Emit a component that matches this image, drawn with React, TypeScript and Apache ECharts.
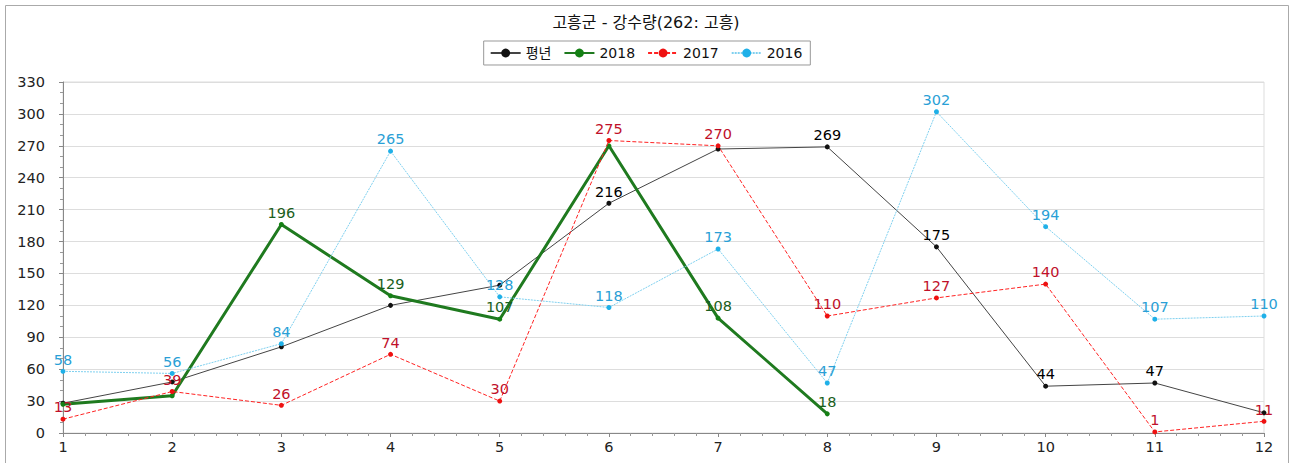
import React, { useEffect, useRef } from "react";
import * as echarts from "echarts";

const months = [1, 2, 3, 4, 5, 6, 7, 8, 9, 10, 11, 12];
const normalVals = [28, 48, 81, 120, 139, 216, 267, 269, 175, 44, 47, 19];
const normalShow = [false, false, false, false, false, true, false, true, true, true, true, false];
const y2018Vals = [27, 35, 196, 129, 107, 270, 108, 18];
const y2018Show = [false, false, true, true, true, false, true, true];
const y2017Vals = [13, 39, 26, 74, 30, 275, 270, 110, 127, 140, 1, 11];
const y2016Vals = [58, 56, 84, 265, 128, 118, 173, 47, 302, 194, 107, 110];

const FONT = "Verdana, 'DejaVu Sans', 'Noto Sans CJK KR', sans-serif";

function pairs(vals: number[], show?: boolean[]) {
  return vals.map((v, i) => ({
    value: [months[i], v],
    label: { show: show ? show[i] : true },
  }));
}

export default function App() {
  const ref = useRef<HTMLDivElement>(null);
  useEffect(() => {
    if (!ref.current) return;
    const chart = echarts.init(ref.current, null, { renderer: "svg" });
    const labelBase = (color: string) => ({
      show: true,
      position: "top" as const,
      distance: 2,
      fontSize: 14.5,
      fontFamily: FONT,
      color,
    });
    chart.setOption({
      animation: false,
      backgroundColor: "#fff",
      title: {
        text: "고흥군 - 강수량(262: 고흥)",
        left: "center",
        top: 9,
        textStyle: { fontSize: 16, fontWeight: "normal", color: "#111", fontFamily: FONT },
      },
      legend: {
        top: 41,
        left: "center",
        padding: [5, 8, 5, 6],
        borderColor: "#999",
        borderWidth: 1,
        itemWidth: 30,
        itemHeight: 11,
        itemGap: 12,
        textStyle: { fontSize: 14, color: "#111", fontFamily: FONT },
        data: ["평년", "2018", "2017", "2016"],
      },
      graphic: [
        {
          type: "rect",
          shape: { x: 5.5, y: 5.5, width: 1283, height: 470 },
          style: { fill: "none", stroke: "#aaa", lineWidth: 1 },
          silent: true,
        },
      ],
      grid: {
        left: 63,
        right: 28,
        top: 82,
        bottom: 30,
        show: true,
        borderColor: "#ddd",
        borderWidth: 1,
      },
      xAxis: {
        type: "value",
        min: 1,
        max: 12,
        interval: 1,
        axisLine: { show: true, lineStyle: { color: "#888" } },
        axisTick: { show: true, length: 4, lineStyle: { color: "#888" } },
        minorTick: { show: true, splitNumber: 5, length: 3, lineStyle: { color: "#999" } },
        splitLine: { show: false },
        axisLabel: { fontSize: 14.5, color: "#222", fontFamily: FONT, margin: 7 },
      },
      yAxis: {
        type: "value",
        min: 0,
        max: 330,
        interval: 30,
        axisLine: { show: true, lineStyle: { color: "#888" } },
        axisTick: { show: true, length: 4, lineStyle: { color: "#888" } },
        minorTick: { show: true, splitNumber: 3, length: 3, lineStyle: { color: "#999" } },
        splitLine: { show: true, lineStyle: { color: "#ddd" } },
        axisLabel: { fontSize: 14.5, color: "#222", fontFamily: FONT, margin: 18 },
      },
      series: [
        {
          name: "평년",
          type: "line",
          data: pairs(normalVals, normalShow),
          symbol: "circle",
          symbolSize: 5,
          itemStyle: { color: "#111" },
          lineStyle: { color: "#444", width: 1 },
          label: labelBase("#000"),
          z: 3,
        },
        {
          name: "2018",
          type: "line",
          data: pairs(y2018Vals, y2018Show),
          symbol: "circle",
          symbolSize: 5,
          itemStyle: { color: "#158015" },
          lineStyle: { color: "#1f7a1f", width: 3 },
          label: labelBase("#1b5e20"),
          z: 4,
        },
        {
          name: "2017",
          type: "line",
          data: pairs(y2017Vals),
          symbol: "circle",
          symbolSize: 5,
          itemStyle: { color: "#ee1111" },
          lineStyle: { color: "#ff2222", width: 1, type: [4, 2] },
          label: labelBase("#c0102a"),
          z: 5,
        },
        {
          name: "2016",
          type: "line",
          data: pairs(y2016Vals),
          symbol: "circle",
          symbolSize: 5,
          itemStyle: { color: "#1fb0e8" },
          lineStyle: { color: "#7fd0ef", width: 1, type: [2, 1] },
          label: labelBase("#2a9fd6"),
          z: 6,
        },
      ],
    });
    return () => chart.dispose();
  }, []);
  return (
    <div
      ref={ref}
      style={{ position: "fixed", left: 0, top: 0, width: 1292, height: 463 }}
    />
  );
}
